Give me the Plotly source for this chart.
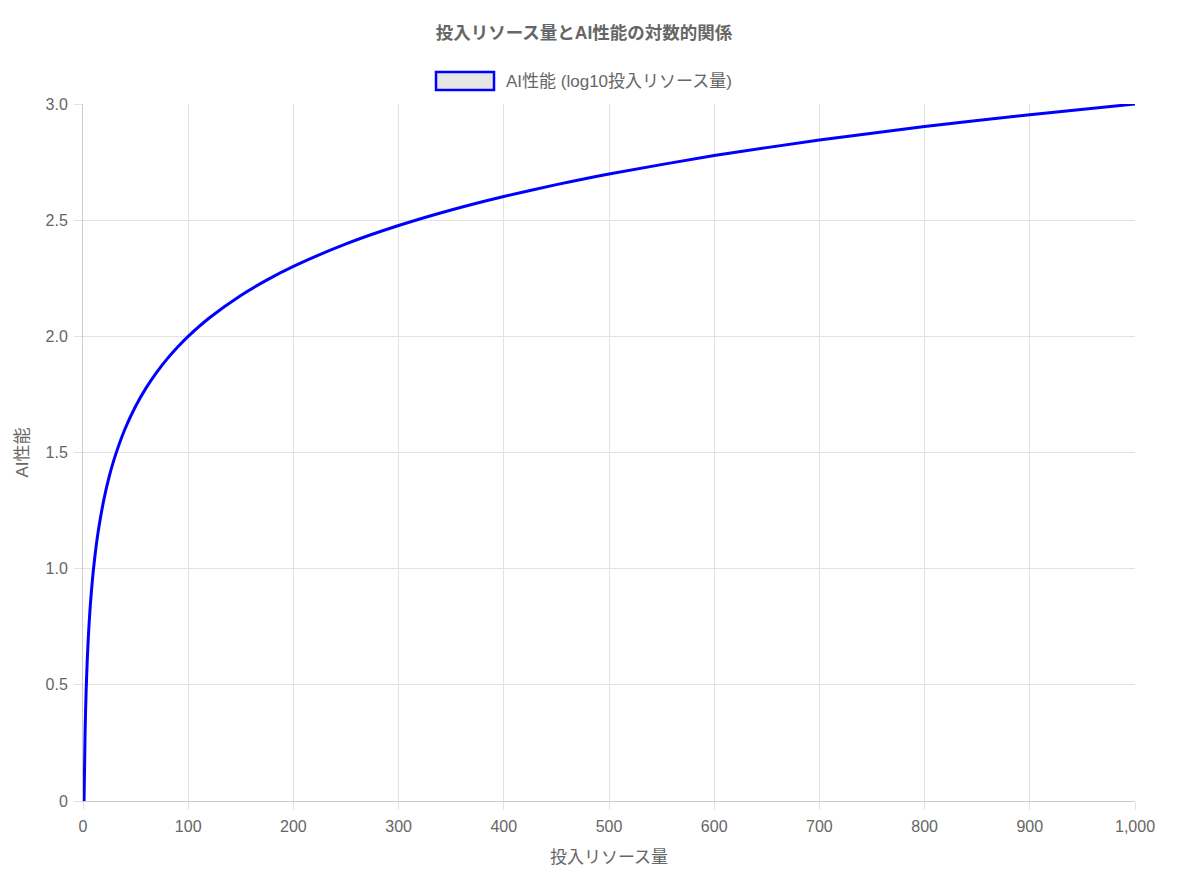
import plotly.graph_objects as go

# Data
resource = [1, 2, 3, 4, 5, 6, 7, 8, 9, 10, 12, 15, 20, 25, 30, 40, 50, 60, 70, 80, 90,
            100, 120, 150, 175, 200, 250, 300, 350, 400, 450, 500, 600, 700, 800, 900, 1000]
performance = [0.0, 0.301, 0.477, 0.602, 0.699, 0.778, 0.845, 0.903, 0.954, 1.0, 1.079,
               1.176, 1.301, 1.398, 1.477, 1.602, 1.699, 1.778, 1.845, 1.903, 1.954,
               2.0, 2.079, 2.176, 2.243, 2.301, 2.398, 2.477, 2.544, 2.602, 2.653, 2.699,
               2.778, 2.845, 2.903, 2.954, 3.0]
y_ticks = [0, 0.5, 1.0, 1.5, 2.0, 2.5, 3.0]
y_tick_labels = ["0", "0.5", "1.0", "1.5", "2.0", "2.5", "3.0"]
x_ticks = [0, 100, 200, 300, 400, 500, 600, 700, 800, 900, 1000]

FONT = "Liberation Sans, Noto Sans CJK JP, sans-serif"
TXT = "#666666"
GRID = "#e2e2e2"

W, H = 1184, 875
L, R, T, B = 75, 57, 96, 82
PW, PH = W - L - R, H - T - B

fig = go.Figure()
fig.add_trace(go.Scatter(
    x=resource, y=performance, mode="lines",
    line=dict(color="#0000ff", width=3, shape="spline", smoothing=0.6),
    showlegend=False, hoverinfo="x+y",
))

fig.update_layout(
    width=W, height=H,
    margin=dict(l=L, r=R, t=T, b=B),
    paper_bgcolor="white", plot_bgcolor="white",
    font=dict(family=FONT, color=TXT, size=16),
    title=dict(text="<b>投入リソース量とAI性能の対数的関係</b>", x=576 / W, xanchor="center",
               y=1 - 25 / H, yanchor="middle", font=dict(size=17.5, color=TXT, family=FONT)),
    xaxis=dict(range=[0, 1000], tickvals=x_ticks, tickformat=",", showgrid=True,
               gridcolor=GRID, gridwidth=1, zeroline=False, showline=True,
               linecolor="#cccccc", linewidth=1, ticks="outside", ticklen=8,
               tickcolor=GRID, tickfont=dict(size=16, color=TXT), ticklabelstandoff=3,
               title=dict(text="投入リソース量", font=dict(size=17, color=TXT), standoff=16)),
    yaxis=dict(range=[0, 3.0], tickvals=y_ticks, ticktext=y_tick_labels, showgrid=True,
               gridcolor=GRID, gridwidth=1, zeroline=False, showline=True,
               linecolor="#cccccc", linewidth=1, ticks="outside", ticklen=8,
               tickcolor=GRID, tickfont=dict(size=16, color=TXT), ticklabelstandoff=3,
               title=dict(text="AI性能", font=dict(size=17, color=TXT), standoff=12)),
    showlegend=False,
)

# Custom legend (Chart.js style box)
fig.add_shape(type="rect", xref="paper", yref="paper",
              x0=(436 - 8 - L) / PW, x1=(494 - 8 - L) / PW,
              y0=(H - B - (90 - 8)) / PH, y1=(H - B - (72 - 8)) / PH,
              line=dict(color="#0000ff", width=2.5), fillcolor="#e6e6e6", layer="above")
fig.add_annotation(text="AI性能 (log10投入リソース量)", xref="paper", yref="paper",
                   x=(504 - 8 - L) / PW, y=(H - B - (81 - 8)) / PH, xanchor="left", yanchor="middle",
                   showarrow=False, font=dict(size=17, color=TXT, family=FONT))

fig.write_html("out.html")
